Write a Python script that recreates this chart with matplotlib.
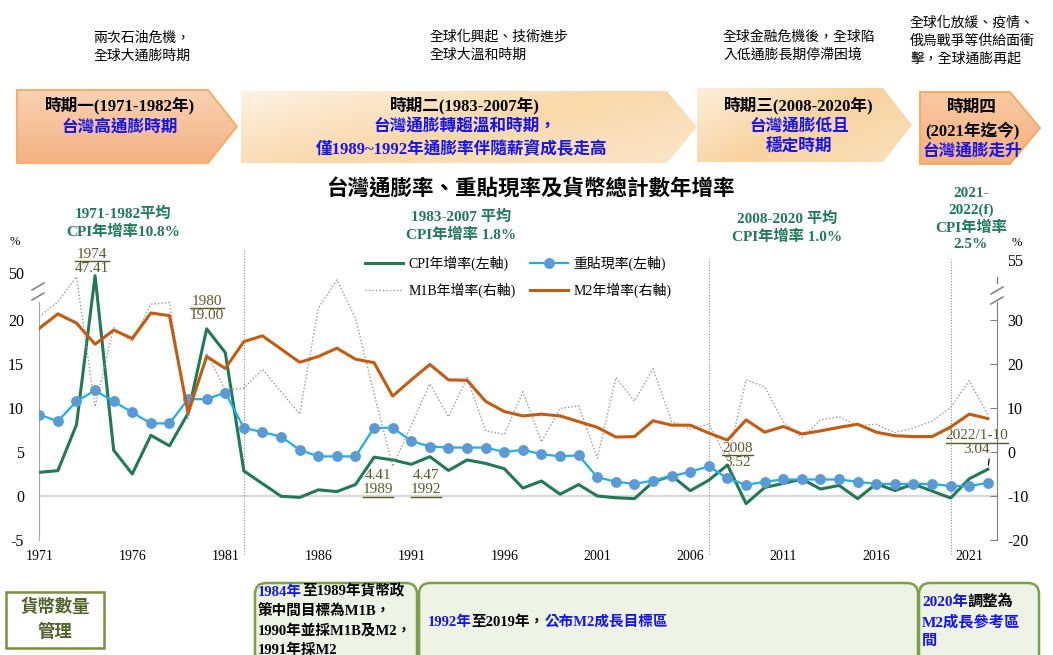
import numpy as np
import matplotlib
matplotlib.use("Agg")
import matplotlib.pyplot as plt
import matplotlib.text as mtext
from matplotlib.patches import Polygon, Rectangle, FancyBboxPatch
from matplotlib.colors import LinearSegmentedColormap
from matplotlib.lines import Line2D
from matplotlib.transforms import IdentityTransform

FONTS = ['Liberation Serif', 'Noto Sans CJK TC', 'DejaVu Sans']
plt.rcParams['font.family'] = FONTS
plt.rcParams['axes.unicode_minus'] = False

# ---- data (1971-2022) ----
years = list(range(1971, 2023))
cpi = [2.69, 2.88, 8.1, 47.41, 5.2, 2.5, 6.9, 5.7, 9.4, 19.0,
       16.3, 2.85, 1.4, -0.03, -0.16, 0.7, 0.5, 1.3, 4.41, 4.1,
       3.6, 4.47, 2.9, 4.1, 3.7, 3.1, 0.9, 1.7, 0.2, 1.3,
       0.0, -0.2, -0.3, 1.6, 2.3, 0.6, 1.8, 3.52, -0.87, 0.97,
       1.42, 1.93, 0.79, 1.2, -0.3, 1.39, 0.62, 1.35, 0.56, -0.23,
       1.96, 3.04]
discount = [9.25, 8.5, 10.75, 12.0, 10.75, 9.5, 8.25, 8.25, 11.0, 11.0,
            11.75, 7.75, 7.25, 6.75, 5.25, 4.5, 4.5, 4.5, 7.75, 7.75,
            6.25, 5.625, 5.5, 5.5, 5.5, 5.0, 5.25, 4.75, 4.5, 4.625,
            2.125, 1.625, 1.375, 1.75, 2.25, 2.75, 3.375, 2.0, 1.25, 1.625,
            1.875, 1.875, 1.875, 1.875, 1.625, 1.375, 1.375, 1.375, 1.375, 1.125,
            1.125, 1.5]
m1b = [30.8, 34.3, 46.7, 10.3, 28.3, 25.0, 33.6, 34.0, 7.6, 22.5,
       14.0, 14.5, 18.8, 13.7, 8.6, 32.7, 45.1, 30.4, 13.3, -3.3,
       6.1, 15.5, 8.0, 16.9, 4.8, 4.0, 13.7, 2.3, 9.9, 10.5,
       -1.4, 16.9, 11.6, 18.9, 6.9, 5.2, 6.4, -1.8, 16.4, 14.8,
       6.9, 3.3, 7.3, 8.0, 6.0, 6.3, 4.4, 5.5, 7.0, 10.1,
       16.2, 8.4]
m2 = [28.1, 31.4, 29.3, 24.5, 27.7, 25.8, 31.6, 31.0, 8.9, 21.7,
      19.0, 25.1, 26.4, 23.4, 20.4, 21.7, 23.6, 21.1, 20.3, 12.7,
      16.4, 19.9, 16.4, 16.3, 11.5, 9.2, 8.2, 8.6, 8.2, 6.9,
      5.6, 3.4, 3.5, 7.1, 6.1, 6.1, 4.3, 2.7, 7.3, 4.5,
      5.8, 4.1, 4.8, 5.6, 6.3, 4.5, 3.7, 3.5, 3.5, 5.7,
      8.6, 7.6]

tick_years = list(range(1971, 2022, 5))
left_ticks = [-5, 0, 5, 10, 15, 20, 50]
right_ticks = [-20, -10, 0, 10, 20, 30, 55]
period_lines = [1982, 2007, 2020]

GREEN = '#1f7a55'
BLUE_LINE = '#1cb0ea'
BLUE_DOT = '#5b9bd5'
ORANGE = '#c55a11'
GREY = '#999999'
OLIVE = '#5c5a2a'
AVG_GREEN = '#217a5b'
TXT_BLUE = '#1414f0'

# broken axis: compress the part above the break
K_L = 0.1193   # left axis, above 22
K_R = 0.2295   # right axis, above 34


def fwd_l(v):
    v = np.asarray(v, float)
    return np.where(v <= 22, v, 22 + (v - 22) * K_L)


def inv_l(u):
    u = np.asarray(u, float)
    return np.where(u <= 22, u, 22 + (u - 22) / K_L)


def fwd_r(r):
    r = np.asarray(r, float)
    return np.where(r <= 34, (r + 10) / 2, 22 + (r - 34) * K_R)


def inv_r(u):
    u = np.asarray(u, float)
    return np.where(u <= 22, 2 * u - 10, 34 + (u - 22) / K_R)


U_TOP = 27.05

fig = plt.figure(figsize=(10.53, 6.55), dpi=100)

# background layer in pixel units for banner / boxes
bg = fig.add_axes([0, 0, 1, 1])
bg.set_xlim(0, 1053)
bg.set_ylim(655, 0)
bg.axis('off')


def grad_shape(pts, colors, edge=None, diag=False):
    poly = Polygon(pts, closed=True, facecolor='none',
                   edgecolor=edge if edge else 'none', lw=1.3, zorder=3)
    bg.add_patch(poly)
    xs = [p[0] for p in pts]
    ys = [p[1] for p in pts]
    yy, xx = np.mgrid[0:1:60j, 0:1:120j]
    g = (xx * 0.6 + yy * 0.4) if diag else yy
    cmap = LinearSegmentedColormap.from_list('g', colors)
    im = bg.imshow(g, cmap=cmap, extent=(min(xs), max(xs), max(ys), min(ys)),
                   aspect='auto', zorder=2)
    im.set_clip_path(poly)


grad_shape([(17, 90), (208, 90), (237, 126.5), (208, 163), (17, 163)],
           ['#fad2b2', '#f4b183'], edge='#f6aa5c')
grad_shape([(241, 91), (667, 91), (697, 127), (667, 163), (241, 163)],
           ['#fdf2e4', '#f9d8a9', '#fbe6cb'], diag=True)
grad_shape([(697, 88), (883, 88), (912, 125), (883, 162), (697, 162)],
           ['#fdeedb', '#f8d3a0', '#fae0bd'], diag=True)
grad_shape([(920, 92), (1010, 92), (1040, 128), (1010, 164), (920, 164)],
           ['#fac8a2', '#f5b180'], edge='#f6a859')
bg.set_xlim(0, 1053)
bg.set_ylim(655, 0)

banner_text = [
    (120, 106, '時期一(1971-1982年)', 'black'),
    (120, 128, '台灣高通膨時期', TXT_BLUE),
    (465, 106, '時期二(1983-2007年)', 'black'),
    (465, 128, '台灣通膨轉趨溫和時期，', TXT_BLUE),
    (462, 150, '僅1989~1992年通膨率伴隨薪資成長走高', TXT_BLUE),
    (799, 106, '時期三(2008-2020年)', 'black'),
    (799, 127, '台灣通膨低且', TXT_BLUE),
    (799, 148, '穩定時期', TXT_BLUE),
    (972, 108, '時期四', 'black'),
    (972, 130, '(2021年迄今)', 'black'),
    (972, 152, '台灣通膨走升', TXT_BLUE),
]
for x, y, s, c in banner_text:
    bg.text(x, y, s, color=c, fontsize=12, fontweight='bold',
            ha='center', va='center', zorder=5)

top_notes = [
    (142, 47, '兩次石油危機，\n全球大通膨時期', 'center'),
    (430, 46, '全球化興起、技術進步\n全球大溫和時期', 'left'),
    (723, 46, '全球金融危機後，全球陷\n入低通膨長期停滯困境', 'left'),
    (910, 41, '全球化放緩、疫情、\n俄烏戰爭等供給面衝\n擊，全球通膨再起', 'left'),
]
for x, y, s, ha in top_notes:
    bg.text(x, y, s, fontsize=10, ha=ha, va='center', linespacing=1.45,
            multialignment=ha, color='black')

bg.text(530, 190, '台灣通膨率、重貼現率及貨幣總計數年增率', fontsize=15.5,
        fontweight='bold', ha='center', va='center')

avg_notes = [
    (123, 223, '1971-1982平均\nCPI年增率10.8%'),
    (461, 226, '1983-2007 平均\nCPI年增率 1.8%'),
    (787, 228, '2008-2020 平均\nCPI年增率 1.0%'),
    (971, 219, '2021-\n2022(f)\nCPI年增率\n2.5%'),
]
for x, y, s in avg_notes:
    bg.text(x, y, s, fontsize=11, fontweight='bold', color=AVG_GREEN,
            ha='center', va='center', linespacing=1.3)

bg.text(15, 242, '%', fontsize=9, ha='center', va='center')
bg.text(1017, 243, '%', fontsize=9, ha='center', va='center')

# axis break marks
for x0, x1 in [(32, 44), (991, 1003)]:
    base = 290 if x0 < 100 else 294
    for dy in (0, 10):
        bg.plot([x0, x1], [base + dy, base + dy - 7], color='#7f7f7f', lw=1.1)
bg.plot([996.5, 996.5], [277, 283], color='#7f7f7f', lw=1)

# ---- bottom boxes ----
bg.add_patch(Rectangle((6, 592), 98, 56, facecolor='white',
                       edgecolor='#77933c', lw=1.8))
bg.text(55, 620, '貨幣數量\n管理', fontsize=12.5, color='#4f6228',
        fontweight='bold', ha='center', va='center', linespacing=1.55)
for x, w in [(255, 162), (419, 499), (919, 120)]:
    bg.add_patch(FancyBboxPatch((x, 583), w, 100,
                                boxstyle='round,pad=0,rounding_size=11',
                                facecolor='#eef4e5', edgecolor='#7ea04a', lw=1.8))


def rich(x, y, parts, size=10.5):
    t = bg.text(x, y, parts[0][0], color=parts[0][1], fontsize=size,
                fontweight='bold', ha='left', va='center')
    for s, c in parts[1:]:
        t = bg.annotate(s, xycoords=t, xy=(1, 0), va='bottom', ha='left',
                        color=c, fontsize=size, fontweight='bold')


rich(258, 592, [('1984年', TXT_BLUE), ('至1989年貨幣政', 'black')])
rich(258, 611, [('策中間目標為M1B，', 'black')])
rich(258, 631, [('1990年並採M1B及M2，', 'black')])
rich(258, 650, [('1991年採M2', 'black')])
rich(428, 622, [('1992年', TXT_BLUE), ('至2019年，', 'black'),
                ('公布M2成長目標區', TXT_BLUE)])
rich(922, 602, [('2020年', TXT_BLUE), ('調整為', 'black')], size=11)
rich(922, 622, [('M2成長參考區', TXT_BLUE)], size=11)
rich(922, 641, [('間', TXT_BLUE)], size=11)

# ---- main chart ----
ax = fig.add_axes([0.0373, 0.1756, 0.9097, 0.4305])
ax.patch.set_visible(False)
ax.set_yscale('function', functions=(fwd_l, inv_l))
ax2 = ax.twinx()
ax2.set_yscale('function', functions=(fwd_r, inv_r))

ax.axhline(0, color='#d9d9d9', lw=1.6, zorder=1)
for yr in period_lines:
    top = 1.03 if yr == period_lines[0] else 0.995
    ax.axvline(yr, ymin=-0.05, ymax=top, color='#8c8c8c', lw=0.8,
               ls=(0, (1, 1.5)), clip_on=False, zorder=1)

h_cpi, = ax.plot(years, cpi, color=GREEN, lw=2.2, label='CPI年增率(左軸)', zorder=3)
h_dr, = ax.plot(years, discount, color=BLUE_LINE, lw=1.6, marker='o', ms=6.8,
                mfc=BLUE_DOT, mec=BLUE_DOT, label='重貼現率(左軸)', zorder=4)
h_m1b, = ax2.plot(years, m1b, color=GREY, lw=1.0, ls=(0, (1, 1.5)),
                  label='M1B年增率(右軸)', zorder=2)
h_m2, = ax2.plot(years, m2, color=ORANGE, lw=2.2, label='M2年增率(右軸)', zorder=3)

ax.set_xlim(1971, 2022.5)
ax.set_ylim(-5, float(inv_l(U_TOP)))
ax2.set_ylim(-20, float(inv_r(U_TOP)))

ax.set_xticks(tick_years, labels=[str(y) for y in tick_years])
ax.set_yticks(left_ticks, labels=[str(v) for v in left_ticks])
ax2.set_yticks(right_ticks, labels=[str(v) for v in right_ticks])
ax.tick_params(axis='x', length=0, pad=7, labelsize=10)
ax.tick_params(axis='y', length=0, pad=11, labelsize=11.5)
ax2.tick_params(axis='y', direction='in', length=5, pad=7, labelsize=11.5,
                color='#7f7f7f')
ax2.yaxis.get_major_ticks()[-1].tick2line.set_visible(False)

for a in (ax, ax2):
    for s in ('top', 'bottom'):
        a.spines[s].set_visible(False)
ax.spines['right'].set_visible(False)
ax2.spines['left'].set_visible(False)
ax.spines['left'].set_color('#a6a6a6')
ax.spines['left'].set_bounds(-5, 22)
ax2.spines['right'].set_color('#7f7f7f')
ax2.spines['right'].set_bounds(-20, 34)


def val(yr):
    return cpi[years.index(yr)]


PX = 0.72  # points per pixel
ann_specs = [
    (1974, '{y}\n{v:.2f}', (-3, 1), 'bottom', 'mid', False),
    (1980, '{y}\n{v:.2f}', (0, 7), 'bottom', 'mid', False),
    (1989, '{v:.2f}\n{y}', (4, -12), 'top', 'bottom', False),
    (1992, '{v:.2f}\n{y}', (-4, -12), 'top', 'bottom', False),
    (2008, '{y}\n{v:.2f}', (10, 10), 'center', 'mid', False),
    (2022, '{y}/1-10\n{v:.2f}', (-11, 13), 'bottom', 'mid', True),
]
anns = []
for yr, fmt, (dx, dy), va, mode, leader in ann_specs:
    kw = {}
    if leader:
        kw['arrowprops'] = dict(arrowstyle='-', color='black', lw=0.9,
                                shrinkA=0, shrinkB=3, relpos=(0.7, 0))
    t = ax.annotate(fmt.format(y=yr, v=val(yr)), xy=(yr, val(yr)),
                    xytext=(dx * PX, dy * PX), textcoords='offset points',
                    ha='center', va=va, multialignment='center',
                    fontsize=11, color=OLIVE, linespacing=1.1,
                    annotation_clip=False, zorder=6, **kw)
    anns.append((t, mode))

fig.legend(handles=[h_cpi, h_m1b, h_dr, h_m2], loc='upper left',
           bbox_to_anchor=(365 / 1053, 1 - 256 / 655), ncol=2, frameon=False,
           borderpad=0, borderaxespad=0, handlelength=2.75, handletextpad=0.4,
           columnspacing=1.0, labelspacing=0.8, prop=dict(family=FONTS, size=10))

# underline the year part of each labelled value
fig.canvas.draw()
r = fig.canvas.get_renderer()
for t, mode in anns:
    bb = mtext.Text.get_window_extent(t, r)
    y = (bb.y0 + bb.y1) / 2 if mode == 'mid' else bb.y0 - 1
    fig.add_artist(Line2D([bb.x0, bb.x1], [y, y], transform=IdentityTransform(),
                          color=OLIVE, lw=1))

fig.savefig('out.png', dpi=100)
